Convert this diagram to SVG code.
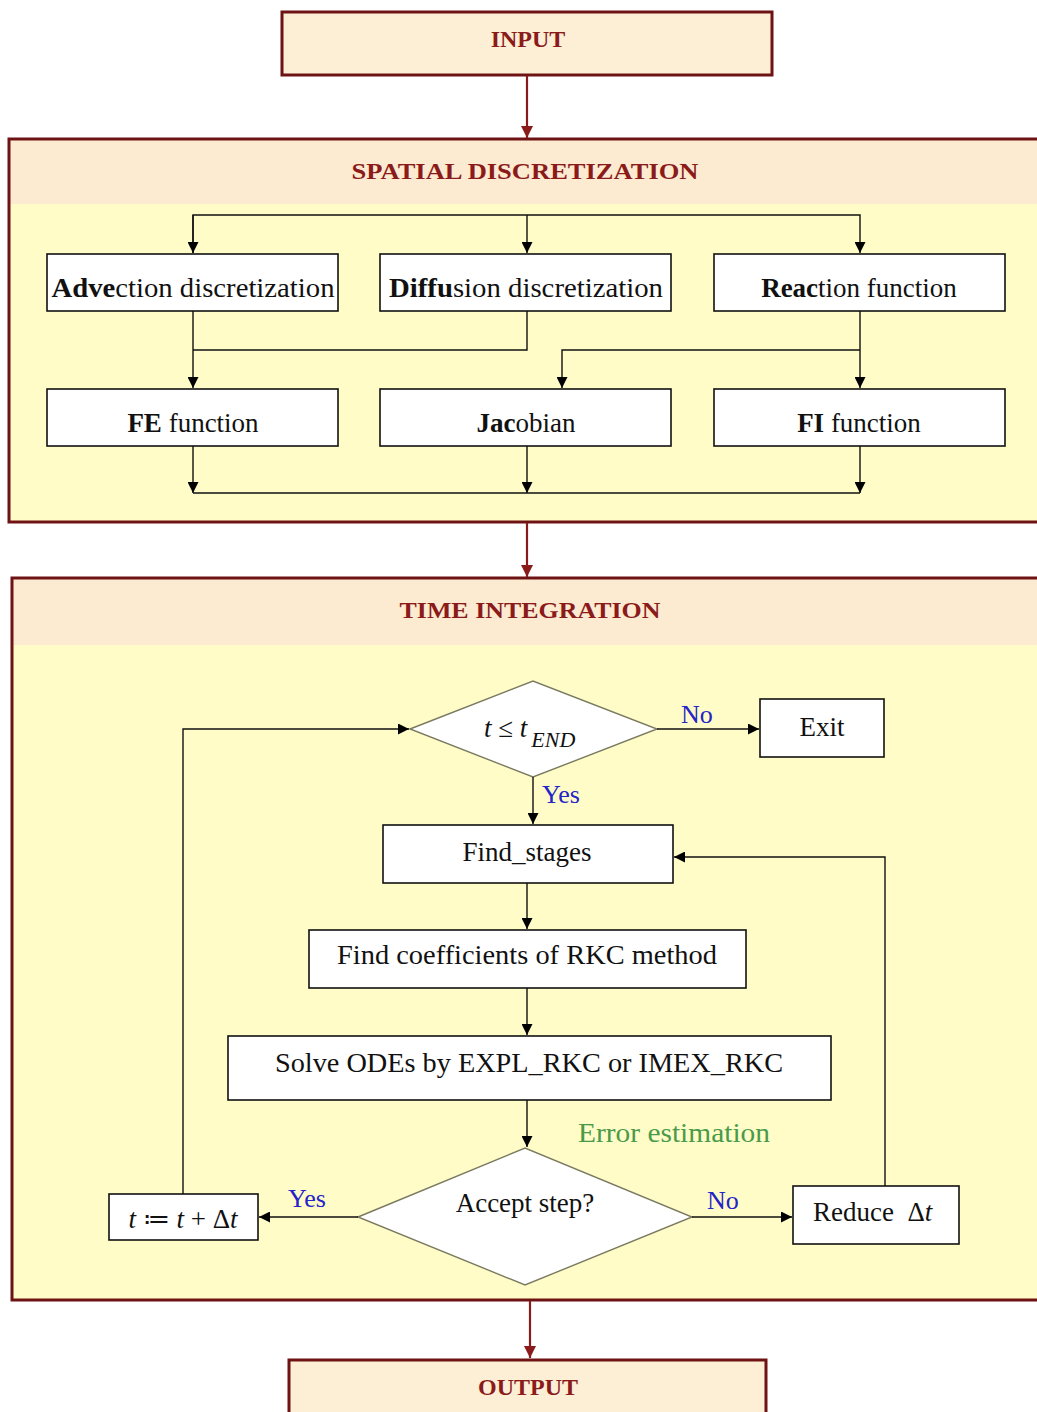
<svg xmlns="http://www.w3.org/2000/svg" width="1037" height="1412" viewBox="0 0 1037 1412">
<defs>
<marker id="ab" viewBox="0 0 10 10" refX="10" refY="5" markerWidth="11" markerHeight="11" markerUnits="userSpaceOnUse" orient="auto"><path d="M0,0 L10,5 L0,10 z" fill="#000"/></marker>
<marker id="ar" viewBox="0 0 10 10" refX="10" refY="5" markerWidth="12" markerHeight="12" markerUnits="userSpaceOnUse" orient="auto"><path d="M0,0 L10,5 L0,10 z" fill="#8b1a1a"/></marker>
</defs>
<style>
.sec{fill:#fffcc8;stroke:none}
.band{fill:#fcebd1}
.frame{fill:none;stroke:#6e1214;stroke-width:3}
.tbox{fill:#fdefd6;stroke:#6e1214;stroke-width:3}
.title{font-family:"Liberation Serif",serif;font-weight:bold;fill:#8b1a1a;font-size:24px;text-anchor:middle}
.box{fill:#fff;stroke:#111;stroke-width:1.6}
.dia{fill:#fff;stroke:#7a7a60;stroke-width:1.4}
.lbl{font-family:"Liberation Serif",serif;font-size:27px;fill:#111;text-anchor:middle}
.lbls{font-family:"Liberation Serif",serif;font-size:27px;fill:#111;text-anchor:start}
.b{font-weight:bold}
.it{font-style:italic}
.blue{font-family:"Liberation Serif",serif;font-size:26px;fill:#2424c8}
.green{font-family:"Liberation Serif",serif;font-size:27px;fill:#4a9a4a}
.c{fill:none;stroke:#111;stroke-width:1.4}
.cr{fill:none;stroke:#8b1a1a;stroke-width:2.2}
</style>
<rect width="1037" height="1412" fill="#fff"/>

<g id="input">
<rect class="tbox" x="282" y="12" width="490" height="63"/>
<text class="title" x="528" y="47">INPUT</text>
</g>

<g id="spatial">
<rect class="sec" x="9" y="139" width="1040" height="383"/>
<rect class="band" x="10" y="140" width="1040" height="64"/>
<rect class="frame" x="9" y="139" width="1040" height="383"/>
<text class="title" x="525" y="179" textLength="347" lengthAdjust="spacingAndGlyphs">SPATIAL DISCRETIZATION</text>
</g>

<g id="time">
<rect class="sec" x="12" y="578" width="1040" height="722"/>
<rect class="band" x="13" y="579" width="1040" height="66"/>
<rect class="frame" x="12" y="578" width="1040" height="722"/>
<text class="title" x="530" y="618" textLength="261" lengthAdjust="spacingAndGlyphs">TIME INTEGRATION</text>
</g>

<g id="output">
<rect class="tbox" x="289" y="1360" width="477" height="70"/>
<text class="title" x="528" y="1395">OUTPUT</text>
</g>

<g id="advection"><rect class="box" x="47" y="254" width="291" height="57"/>
<text class="lbl" x="193" y="297" textLength="283" lengthAdjust="spacingAndGlyphs"><tspan class="b">Adve</tspan>ction discretization</text></g>
<g id="diffusion"><rect class="box" x="380" y="254" width="291" height="57"/>
<text class="lbl" x="526" y="297" textLength="274" lengthAdjust="spacingAndGlyphs"><tspan class="b">Diffu</tspan>sion discretization</text></g>
<g id="reaction"><rect class="box" x="714" y="254" width="291" height="57"/>
<text class="lbl" x="859" y="297"><tspan class="b">Reac</tspan>tion function</text></g>
<g id="fe"><rect class="box" x="47" y="389" width="291" height="57"/>
<text class="lbl" x="193" y="432"><tspan class="b">FE</tspan> function</text></g>
<g id="jacobian"><rect class="box" x="380" y="389" width="291" height="57"/>
<text class="lbl" x="526" y="432"><tspan class="b">Jac</tspan>obian</text></g>
<g id="fi"><rect class="box" x="714" y="389" width="291" height="57"/>
<text class="lbl" x="859" y="432"><tspan class="b">FI</tspan> function</text></g>

<g id="cond1"><polygon class="dia" points="410,729 533,681 657,729 533,777"/>
<text class="lbls it" x="484" y="737">t <tspan font-style="normal">≤</tspan> t<tspan font-size="22" dy="10" dx="4">END</tspan></text></g>
<g id="exit"><rect class="box" x="760" y="699" width="124" height="58"/>
<text class="lbl" x="822" y="736">Exit</text></g>
<g id="findstages"><rect class="box" x="383" y="825" width="290" height="58"/>
<text class="lbl" x="527" y="861">Find_stages</text></g>
<g id="findcoef"><rect class="box" x="309" y="930" width="437" height="58"/>
<text class="lbl" x="527" y="964" textLength="380" lengthAdjust="spacingAndGlyphs">Find coefficients of RKC method</text></g>
<g id="solve"><rect class="box" x="228" y="1036" width="603" height="64"/>
<text class="lbl" x="529" y="1072" textLength="508" lengthAdjust="spacingAndGlyphs">Solve ODEs by EXPL_RKC or IMEX_RKC</text></g>
<g id="accept"><polygon class="dia" points="358,1217 525,1148 692,1217 525,1285"/>
<text class="lbl" x="525" y="1212">Accept step?</text></g>
<g id="advance"><rect class="box" x="109" y="1194" width="149" height="46"/>
<text class="lbl it" x="183" y="1228">t <tspan font-style="normal">≔</tspan> t <tspan font-style="normal">+</tspan> <tspan font-style="normal">Δ</tspan>t</text></g>
<g id="reduce"><rect class="box" x="793" y="1186" width="166" height="58"/>
<text class="lbls" x="813" y="1221">Reduce&#160;&#160;Δ<tspan class="it">t</tspan></text></g>

<g id="connectors">
<line class="cr" x1="527" y1="76" x2="527" y2="138" marker-end="url(#ar)"/>
<line class="cr" x1="527" y1="523" x2="527" y2="577" marker-end="url(#ar)"/>
<line class="cr" x1="530" y1="1301" x2="530" y2="1358" marker-end="url(#ar)"/>

<polyline class="c" points="193,253 193,215 860,215 860,253" marker-end="url(#ab)"/>
<line class="c" x1="193" y1="215" x2="193" y2="253" marker-end="url(#ab)"/>
<line class="c" x1="527" y1="215" x2="527" y2="253" marker-end="url(#ab)"/>
<line class="c" x1="193" y1="311" x2="193" y2="388" marker-end="url(#ab)"/>
<polyline class="c" points="527,311 527,350 193,350"/>
<line class="c" x1="860" y1="311" x2="860" y2="388" marker-end="url(#ab)"/>
<polyline class="c" points="860,350 562,350 562,388" marker-end="url(#ab)"/>
<line class="c" x1="193" y1="446" x2="193" y2="493" marker-end="url(#ab)"/>
<line class="c" x1="527" y1="446" x2="527" y2="493" marker-end="url(#ab)"/>
<line class="c" x1="860" y1="446" x2="860" y2="493" marker-end="url(#ab)"/>
<line class="c" x1="193" y1="493" x2="860" y2="493"/>

<polyline class="c" points="183,1194 183,729 409,729" marker-end="url(#ab)"/>
<line class="c" x1="657" y1="729" x2="759" y2="729" marker-end="url(#ab)"/>
<line class="c" x1="533" y1="777" x2="533" y2="824" marker-end="url(#ab)"/>
<line class="c" x1="527" y1="883" x2="527" y2="929" marker-end="url(#ab)"/>
<line class="c" x1="527" y1="988" x2="527" y2="1035" marker-end="url(#ab)"/>
<line class="c" x1="527" y1="1100" x2="527" y2="1147" marker-end="url(#ab)"/>
<line class="c" x1="358" y1="1217" x2="259" y2="1217" marker-end="url(#ab)"/>
<line class="c" x1="692" y1="1217" x2="792" y2="1217" marker-end="url(#ab)"/>
<polyline class="c" points="885,1186 885,857 674,857" marker-end="url(#ab)"/>

<text class="blue" x="681" y="723">No</text>
<text class="blue" x="542" y="803">Yes</text>
<text class="green" x="578" y="1142" textLength="192" lengthAdjust="spacingAndGlyphs">Error  estimation</text>
<text class="blue" x="288" y="1207">Yes</text>
<text class="blue" x="707" y="1209">No</text>
</g>
</svg>
